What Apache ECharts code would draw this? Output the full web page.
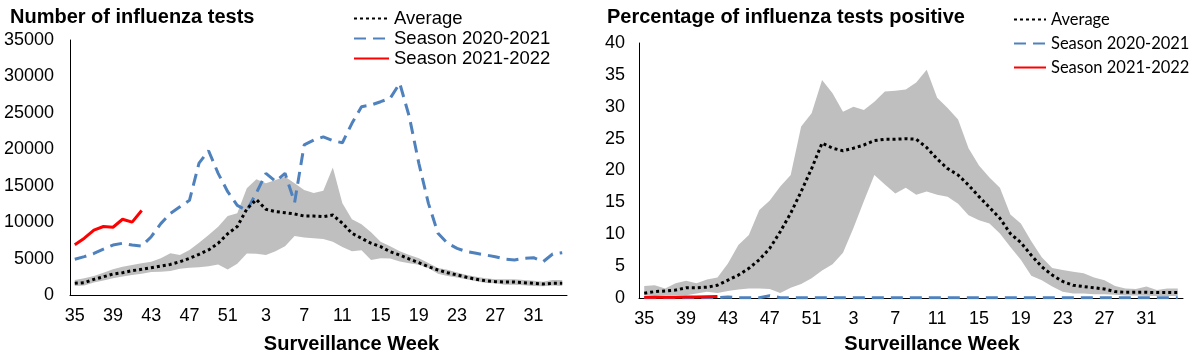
<!DOCTYPE html>
<html><head><meta charset="utf-8">
<script src="https://cdn.jsdelivr.net/npm/echarts@6/dist/echarts.min.js"></script>
<style>html,body{margin:0;padding:0;background:#fff}#c{width:1203px;height:359px}</style>
</head><body><div id="c"></div>
<script>
// Surveillance weeks (categories)
const weeks = [35,36,37,38,39,40,41,42,43,44,45,46,47,48,49,50,51,52,1,2,3,4,5,6,7,8,9,10,11,12,13,14,15,16,17,18,19,20,21,22,23,24,25,26,27,28,29,30,31,32,33,34];

// Number of influenza tests
const testsAvg = [1600,1700,2150,2500,2880,3060,3340,3520,3750,3980,4200,4570,5030,5580,6180,7100,8400,9400,11800,13100,11760,11440,11300,11120,10840,10840,10750,10980,9840,8470,7780,7100,6630,5940,5490,4940,4430,3880,3430,3060,2750,2430,2150,1960,1830,1780,1780,1690,1600,1510,1600,1600];
const testsLow = [1230,1300,1700,2000,2300,2550,2750,2900,3150,3200,3300,3600,3750,3800,3950,4200,3500,4300,5700,5650,5500,6000,6700,8100,7900,7800,7700,7300,6600,6000,6150,4800,5050,5000,4600,4350,4150,3700,2900,2600,2400,2150,1900,1650,1600,1400,1400,1350,1250,1200,1300,1250];
const testsHigh = [2060,2290,2610,3060,3520,3890,4120,4350,4570,5030,5720,5490,6180,7180,8240,9380,10840,11210,14640,15880,15330,15780,16240,15330,14410,14000,14300,17500,12600,10400,9700,8600,7300,6700,6000,5500,5050,4400,3700,3450,3100,2750,2520,2290,2150,2150,2150,2060,1960,1830,2060,2060];
const tests2020 = [4900,5260,5700,6300,6860,7100,6860,6700,8000,9800,11200,12100,13000,18100,19800,16700,14180,12300,11600,14000,16700,15600,16700,12700,20600,21270,21700,21180,20900,23560,25840,26080,26530,27000,29060,24470,18070,12580,8470,7100,6400,5950,5720,5490,5260,4940,4800,5030,5120,4570,5630,5810];
const tests2021 = [6900,7800,8900,9400,9300,10400,10000,11600];

// Percentage of influenza tests positive
const posAvg = [0.75,1.0,1.1,1.25,1.6,1.6,1.7,2.0,2.8,3.6,4.65,6.0,7.8,10.4,13.3,16.7,20.3,24.3,23.5,23.1,23.5,24.0,24.7,24.9,24.9,25.0,24.9,23.6,21.8,20.3,19.3,17.7,15.9,14.2,12.5,10.1,8.7,6.7,4.9,3.6,2.6,2.0,1.8,1.6,1.4,1.0,0.9,0.9,0.9,0.85,0.85,0.85];
const posLow = [0.5,0.3,0.45,0.45,0.45,0.7,1.0,0.8,1.1,1.35,1.5,1.5,1.4,0.8,1.6,2.2,3.1,4.3,5.3,7.1,11.0,15.2,19.3,17.8,16.4,17.3,16.2,16.7,16.2,15.9,14.8,13.0,12.2,11.7,10.1,8.0,6.0,3.5,2.8,1.8,1.0,0.7,0.7,0.6,0.6,0.5,0.4,0.4,0.35,0.3,0.3,0.3];
const posHigh = [1.9,2.0,1.5,2.3,2.7,2.3,2.9,3.2,5.4,8.3,9.9,13.8,15.3,17.5,19.3,26.9,29.0,34.2,32.1,29.2,30.0,29.5,30.8,32.4,32.5,32.7,33.8,35.8,31.4,29.8,28.0,23.5,20.8,18.9,17.3,13.1,11.7,8.9,6.4,4.7,4.4,4.1,3.9,3.2,2.8,1.9,1.5,1.4,1.8,1.25,1.5,1.5];
const pos2020 = [0.05,0.05,0.05,0.05,0.05,0.05,0.05,0.05,0.15,0.05,0.05,0.05,0.35,0.05,0.05,0.05,0.05,0.05,0.05,0.05,0.05,0.05,0.05,0.05,0.05,0.05,0.05,0.05,0.05,0.05,0.05,0.05,0.05,0.05,0.05,0.05,0.05,0.05,0.05,0.05,0.05,0.05,0.05,0.05,0.05,0.05,0.05,0.05,0.05,0.05,0.05,0.05];
const pos2021 = [0.1,0.1,0.1,0.1,0.15,0.15,0.2,0.25];

const leftTicks = {min:0, max:35000, interval:5000};
const rightTicks = {min:0, max:40, interval:5};

const F = 'Liberation Sans, Arial, sans-serif';
const GRAY = '#BFBFBF', BLUE = '#4F81BD', RED = '#FF0000';

function diff(h, l){ return h.map((v,i)=>+(v - l[i]).toFixed(3)); }

function xAx(gi, gapPad){
  return {
    type:'category', gridIndex:gi, data:weeks.map(String), boundaryGap:true,
    axisLine:{show:true, lineStyle:{color:'#000', width:1}},
    axisTick:{show:false},
    axisLabel:{interval:3, color:'#000', fontSize:18, fontFamily:F, margin:12},
    name:'Surveillance Week', nameLocation:'middle', nameGap: gi===0?39:36,
    nameTextStyle:{fontSize:20, fontWeight:'bold', fontFamily:F, color:'#000', padding:[0,0,0,gapPad]},
    splitLine:{show:false}
  };
}
function yAx(gi, t, margin){
  return {
    type:'value', gridIndex:gi, min:t.min, max:t.max, interval:t.interval,
    axisLine:{show:true, lineStyle:{color:'#000', width:1}},
    axisTick:{show:false}, splitLine:{show:false},
    axisLabel:{color:'#000', fontSize:18, fontFamily:F, margin:margin, formatter:(v)=>String(v)}
  };
}
function bandSeries(idx, low, high, stackName){
  return [
    {type:'line', name:'_low'+idx, xAxisIndex:idx, yAxisIndex:idx, data:low, stack:stackName,
     symbol:'none', lineStyle:{opacity:0, width:0}, silent:true, z:1},
    {type:'line', name:'_band'+idx, xAxisIndex:idx, yAxisIndex:idx, data:diff(high, low), stack:stackName,
     symbol:'none', lineStyle:{opacity:0, width:0}, areaStyle:{color:GRAY, opacity:1}, silent:true, z:1}
  ];
}
function lines(idx, avg, s20, s21){
  return [
    {type:'line', name:'Season 2020-2021', xAxisIndex:idx, yAxisIndex:idx, data:s20, symbol:'none',
     lineStyle:{color:BLUE, width:3, type:[12,7]}, itemStyle:{color:BLUE}, z:3},
    {type:'line', name:'Average', xAxisIndex:idx, yAxisIndex:idx, data:avg, symbol:'none',
     lineStyle:{color:'#000', width:3, type:[3,3]}, itemStyle:{color:'#000'}, z:4},
    {type:'line', name:'Season 2021-2022', xAxisIndex:idx, yAxisIndex:idx, data:s21, symbol:'none',
     lineStyle:{color:RED, width:3}, itemStyle:{color:RED}, z:5}
  ];
}

const option = {
  animation:false,
  backgroundColor:'#fff',
  title:[
    {text:'Number of influenza tests', left:10, top:7, padding:0,
     textStyle:{fontSize:20, fontWeight:'bold', fontFamily:F, color:'#000'}},
    {text:'Percentage of influenza tests positive', left:607, top:7, padding:0,
     textStyle:{fontSize:20, fontWeight:'bold', fontFamily:F, color:'#000'}}
  ],
  legend:[
    {data:['Average','Season 2020-2021','Season 2021-2022'], orient:'vertical', left:353, top:9, padding:0,
     itemWidth:35, itemHeight:14, itemGap:1, selectedMode:false, itemStyle:{opacity:0},
     textStyle:{fontSize:18.5, fontFamily:F, color:'#000'}},
    {data:['Average','Season 2020-2021','Season 2021-2022'], orient:'vertical', left:1013, top:11, padding:0,
     itemWidth:32, itemHeight:14, itemGap:7, selectedMode:false, itemStyle:{opacity:0},
     textStyle:{fontSize:16.5, fontFamily:'Lato, sans-serif', color:'#000'}}
  ],
  grid:[
    {left:70, right:636, top:40, bottom:64, containLabel:false},
    {left:639, right:20, top:43, bottom:61, containLabel:false}
  ],
  xAxis:[xAx(0, 66), xAx(1, 42)],
  yAxis:[yAx(0, leftTicks, 16), yAx(1, rightTicks, 14)],
  series:[].concat(
    bandSeries(0, testsLow, testsHigh, 'b0'),
    lines(0, testsAvg, tests2020, tests2021),
    bandSeries(1, posLow, posHigh, 'b1'),
    lines(1, posAvg, pos2020, pos2021)
  )
};
const chart = echarts.init(document.getElementById('c'));
chart.setOption(option);
</script>
</body></html>
